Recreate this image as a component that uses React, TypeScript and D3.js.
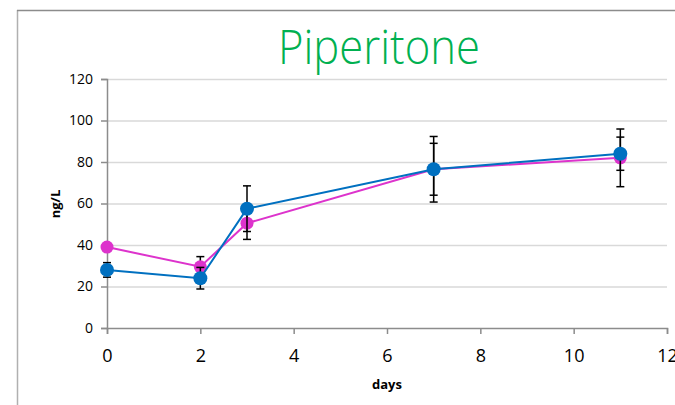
import React, { useEffect, useRef } from "react";
import * as d3 from "d3";

const days = [0, 2, 3, 7, 11];
const magentaValues = [39, 29.5, 50.5, 76.5, 82];
const magentaErrors = [1.5, 4.9, 7.8, 12.5, 13.9];
const blueValues = [28, 24, 57.5, 76.5, 84];
const blueErrors = [3.5, 5.2, 11, 15.8, 8];
const yTicks = [0, 20, 40, 60, 80, 100, 120];
const xTicks = [0, 2, 4, 6, 8, 10, 12];

const series = [
  { name: "magenta", color: "#DD33CC", r: 6.5, values: magentaValues, errors: magentaErrors },
  { name: "blue", color: "#0070C0", r: 7, values: blueValues, errors: blueErrors },
];

export default function App() {
  const ref = useRef<SVGSVGElement>(null);

  useEffect(() => {
    document.documentElement.style.overflow = "hidden";
    document.body.style.margin = "0";

    const svg = d3.select(ref.current);
    svg.selectAll("*").remove();

    const x = d3.scaleLinear().domain([0, 12]).range([107, 667]);
    const y = d3.scaleLinear().domain([0, 120]).range([328, 79]);
    const font = "'Open Sans', sans-serif";

    svg.append("rect").attr("width", 675).attr("height", 405).attr("fill", "#fff");

    // chart frame: left edge and top edge
    svg.append("line")
      .attr("x1", 17.5).attr("x2", 17.5).attr("y1", 10).attr("y2", 405)
      .attr("stroke", "#b0b0b0").attr("stroke-width", 1.5);
    svg.append("line")
      .attr("x1", 17).attr("x2", 675).attr("y1", 10.5).attr("y2", 10.5)
      .attr("stroke", "#8c8c8c").attr("stroke-width", 1.5);

    svg.append("text")
      .attr("x", 379)
      .attr("y", 64)
      .attr("text-anchor", "middle")
      .attr("fill", "#00B050")
      .attr("font-family", font)
      .attr("font-weight", 300)
      .attr("font-size", 47)
      .attr("textLength", 202)
      .attr("lengthAdjust", "spacingAndGlyphs")
      .text("Piperitone");

    // grid
    svg.append("g")
      .selectAll("line")
      .data(yTicks.slice(1))
      .join("line")
      .attr("x1", x(0))
      .attr("x2", x(12))
      .attr("y1", (d) => y(d) + 0.5)
      .attr("y2", (d) => y(d) + 0.5)
      .attr("stroke", "#d9d9d9")
      .attr("stroke-width", 1.5);

    const yAxis = svg.append("g")
      .attr("transform", `translate(${x(0)},0)`)
      .call(d3.axisLeft(y).tickValues(yTicks).tickSize(6).tickPadding(8));
    const xAxis = svg.append("g")
      .attr("transform", `translate(0,${y(0)})`)
      .call(d3.axisBottom(x).tickValues(xTicks).tickSize(6).tickPadding(15));

    for (const ax of [yAxis, xAxis]) {
      ax.select(".domain").attr("stroke", "#8c8c8c").attr("stroke-width", 1.5);
      ax.selectAll(".tick line").attr("stroke", "#8c8c8c").attr("stroke-width", 1.5);
      ax.selectAll(".tick text").attr("fill", "#000").attr("font-family", font);
    }
    yAxis.selectAll(".tick text").attr("font-size", 14);
    xAxis.selectAll(".tick text").attr("font-size", 18);

    svg.append("text")
      .attr("x", 387)
      .attr("y", 389)
      .attr("text-anchor", "middle")
      .attr("font-family", font)
      .attr("font-weight", "bold")
      .attr("font-size", 13)
      .text("days");

    svg.append("text")
      .attr("transform", "translate(60,204) rotate(-90)")
      .attr("text-anchor", "middle")
      .attr("font-family", font)
      .attr("font-weight", "bold")
      .attr("font-size", 13)
      .text("ng/L");

    const line = d3.line<number>()
      .x((d, i) => x(days[i]))
      .y((d) => y(d));

    for (const s of series) {
      const g = svg.append("g");
      g.append("path")
        .attr("d", line(s.values))
        .attr("fill", "none")
        .attr("stroke", s.color)
        .attr("stroke-width", 2);

      const eb = g.append("g").attr("stroke", "#000").attr("stroke-width", 1.5);
      s.values.forEach((v, i) => {
        const cx = x(days[i]);
        const top = y(v + s.errors[i]);
        const bot = y(v - s.errors[i]);
        eb.append("line").attr("x1", cx).attr("x2", cx).attr("y1", top).attr("y2", bot);
        eb.append("line").attr("x1", cx - 4).attr("x2", cx + 4).attr("y1", top).attr("y2", top);
        eb.append("line").attr("x1", cx - 4).attr("x2", cx + 4).attr("y1", bot).attr("y2", bot);
      });

      g.selectAll("circle")
        .data(s.values)
        .join("circle")
        .attr("cx", (d, i) => x(days[i]))
        .attr("cy", (d) => y(d))
        .attr("r", s.r)
        .attr("fill", s.color);
    }
  }, []);

  return (
    <svg
      ref={ref}
      width={675}
      height={405}
      style={{ position: "absolute", left: 0, top: 0, display: "block" }}
    />
  );
}
